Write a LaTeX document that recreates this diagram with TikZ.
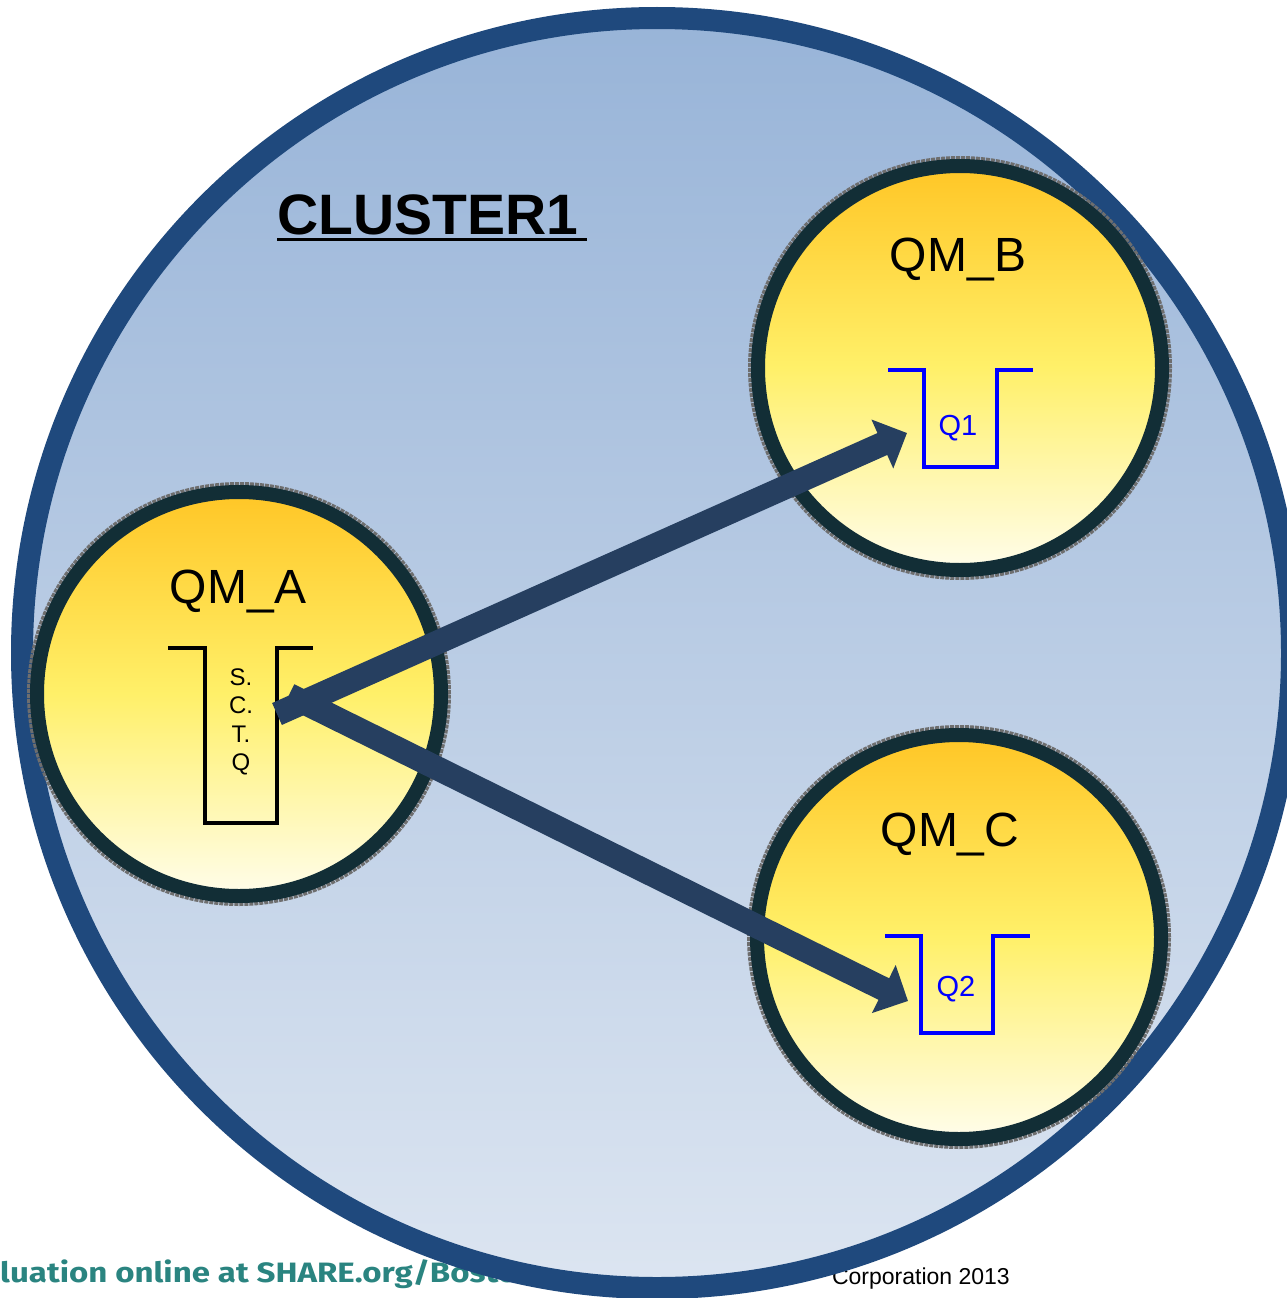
\documentclass[tikz,border=0pt]{standalone}
\usepackage{fontspec}
\setmainfont{Liberation Sans}
\newfontfamily\footfont{Fira Sans}
\usetikzlibrary{arrows.meta}
\definecolor{ringblue}{RGB}{31,73,125}
\definecolor{skytop}{RGB}{152,180,216}
\definecolor{skybot}{RGB}{220,229,241}
\definecolor{qmborder}{RGB}{18,46,54}
\definecolor{yeltop}{RGB}{255,198,38}
\definecolor{yelmid}{RGB}{255,240,105}
\definecolor{yelbot}{RGB}{255,253,235}
\definecolor{arrowc}{RGB}{38,63,96}
\definecolor{footteal}{RGB}{42,132,128}
\definecolor{qblue}{RGB}{0,0,255}
\definecolor{halo}{RGB}{110,110,110}
\begin{document}
\begin{tikzpicture}[x=1pt,y=-1pt,
  bigcirc/.style={circle, minimum size=1270pt, inner sep=0pt, draw=ringblue, line width=22pt, top color=skytop, bottom color=skybot},
  qmhalo/.style={circle, minimum size=420pt, inner sep=0pt, draw=halo, line width=4pt, densely dotted},
  qm/.style={circle, minimum size=404pt, inner sep=0pt, draw=qmborder, line width=14pt, top color=yeltop, bottom color=yelbot, middle color=yelmid},
  qmlabel/.style={anchor=base, inner sep=0pt, font=\fontsize{48}{56}\selectfont},
  sctq/.style={anchor=base, inner sep=0pt, font=\fontsize{24}{28}\selectfont},
  qlabel/.style={anchor=base, inner sep=0pt, text=qblue, font=\fontsize{29}{34}\selectfont},
  qblack/.style={draw=black, line width=4pt, line join=miter},
  qblueline/.style={draw=qblue, line width=4pt, line join=miter},
  flow/.style={draw=arrowc, line width=24pt, line cap=butt, -{Triangle[length=27pt,width=52pt]}}
]
\useasboundingbox (0,0) rectangle (1287,1298);
\clip (0,0) rectangle (1287,1298);
\fill[white] (0,0) rectangle (1287,1298);

% footer texts (partly covered by the cluster circle)
\node[anchor=base west, inner sep=0pt, xscale=1.18, text=footteal, font=\footfont\bfseries\fontsize{28}{32}\selectfont] (foot1) at (0,1282) {luation online at SHARE.org/Boston};
\node[anchor=base east, inner sep=0pt, font=\fontsize{23}{26}\selectfont] (foot2) at (1010,1284) {Corporation 2013};

% cluster circle
\node[bigcirc] (cluster) at (657,653) {};

% queue manager circles
\node[qmhalo] (haloA) at (239,694) {};
\node[qmhalo] (haloB) at (960,368) {};
\node[qmhalo] (haloC) at (959,937) {};
\node[qm] (qmA) at (239,694) {};
\node[qm] (qmB) at (960,368) {};
\node[qm] (qmC) at (959,937) {};

% queues
\path[qblack] (168,648) -- (205,648) -- (205,823) -- (277,823) -- (277,648) -- (313,648);
\path[qblueline] (888,370) -- (924,370) -- (924,467) -- (997,467) -- (997,370) -- (1033,370);
\path[qblueline] (885,936) -- (921,936) -- (921,1033) -- (993,1033) -- (993,936) -- (1030,936);

% arrows
\coordinate (tailB) at (277,714);
\coordinate (tipB) at (907,433);
\coordinate (tailC) at (289,695);
\coordinate (tipC) at (908,1001);
\draw[flow] (tailC) -- (tipC);
\draw[flow] (tailB) -- (tipB);

% labels
\node[anchor=base west, inner sep=0pt, font=\bfseries\fontsize{57}{64}\selectfont] (clus) at (277,234) {CLUSTER1};
\draw[line width=3.5pt] ([yshift=-5.5pt]clus.base west) -- ([xshift=9pt,yshift=-5.5pt]clus.base east);
\node[qmlabel] (lblA) at (238,603) {QM\_A};
\node[qmlabel] (lblB) at (958,271) {QM\_B};
\node[qmlabel] (lblC) at (950,846) {QM\_C};
\node[sctq] (s1) at (241,685) {S.};
\node[sctq] (s2) at (241,713) {C.};
\node[sctq] (s3) at (241,742) {T.};
\node[sctq] (s4) at (241,770) {Q};
\node[qlabel] (q1) at (958,435) {Q1};
\node[qlabel] (q2) at (956,996) {Q2};
\end{tikzpicture}
\end{document}
